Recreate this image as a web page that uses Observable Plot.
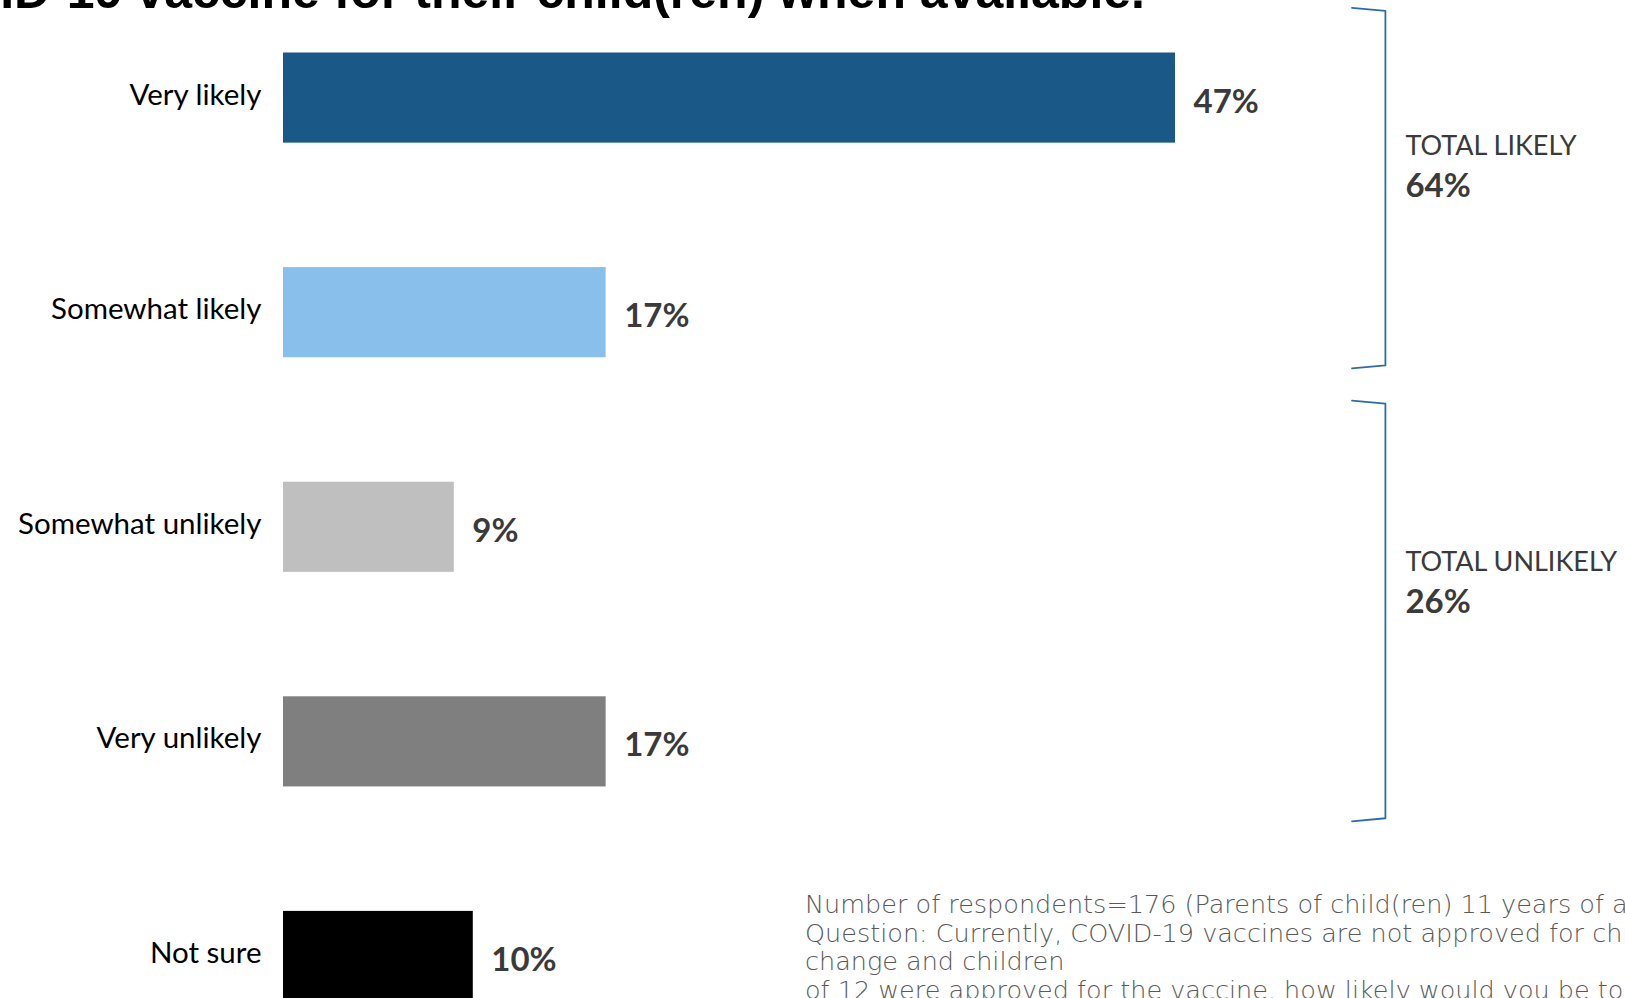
<!DOCTYPE html>
<html>
<head>
<meta charset="utf-8">
<script src="https://cdn.jsdelivr.net/npm/d3@7"></script>
<script src="https://cdn.jsdelivr.net/npm/@observablehq/plot@0.6"></script>
<style>
  html, body { margin: 0; padding: 0; background: #fff; }
  body { width: 1625px; height: 998px; overflow: hidden; position: relative; }
  #chart { position: absolute; left: 0; top: 0; }
  #title { position: absolute; right: 480px; top: -34px; font: bold 50px "Liberation Sans", Arial, sans-serif;
           line-height: 50px; white-space: nowrap; color: #000; }
  #caption { position: absolute; left: 805px; top: 890px; font: 200 25.5px "DejaVu Sans", sans-serif;
             line-height: 28.5px; white-space: nowrap; color: #595959; }
</style>
</head>
<body>
<div id="chart"></div>
<div id="title"></div>
<div id="caption"></div>
<script>
// ---- data ----
const categories = ["Very likely", "Somewhat likely", "Somewhat unlikely", "Very unlikely", "Not sure"];
const values = [47, 17, 9, 17, 10];
const palette = ["#1A5888", "#89BFEB", "#BFBFBF", "#7F7F7F", "#000000"];

const groupLabels = ["TOTAL LIKELY", "TOTAL UNLIKELY"];
const groupValues = [64, 26];
const groupStart = [-0.42, 1.41];   // bracket extents, in category-row units
const groupEnd = [1.26, 3.37];

const titleText = "Likelihood of parents getting the COVID-19 vaccine for their child(ren) when available.";
const captionLines = [
  "Number of respondents=176 (Parents of child(ren) 11 years of age or younger)",
  "Question: Currently, COVID-19 vaccines are not approved for children under the age of 12. If this were to",
  "change and children",
  "of 12 were approved for the vaccine, how likely would you be to get your child(ren) vaccinated?"
];

// ---- tables ----
const rows = categories.map((c, i) => ({category: c, value: values[i], i}));
const groups = groupLabels.map((g, k) => ({label: g, value: groupValues[k], start: groupStart[k], end: groupEnd[k]}));

const xMax = d3.max(values);
const hookX = xMax + 9.3;      // left end of bracket hooks
const spineX = xMax + 11.06;   // vertical spine of bracket
const bracketPts = groups.flatMap((g, k) => [
  {k, x: hookX, y: g.start},
  {k, x: spineX, y: g.start + 0.014},
  {k, x: spineX, y: g.end - 0.014},
  {k, x: hookX, y: g.end}
]);
const labelAt = g => g.start + 0.385 * (g.end - g.start);

const labelFont = "Lato, 'Open Sans', sans-serif";

const chart = Plot.plot({
  width: 1625,
  height: 1074,
  marginLeft: 283,
  marginRight: 450,
  marginTop: 1,
  marginBottom: 0,
  x: {domain: [0, xMax], axis: null},
  y: {type: "linear", domain: [-0.45, 4.55], reverse: true, axis: null},
  color: {domain: categories, range: palette},
  style: {background: "transparent", overflow: "visible"},
  marks: [
    Plot.rectX(rows, {x1: 0, x2: "value", y1: d => d.i - 0.21, y2: d => d.i + 0.21, fill: "category"}),
    Plot.text(rows, {x: 0, y: "i", text: "category", textAnchor: "end", dx: -22, dy: -3,
      fontSize: 29.5, fontFamily: labelFont, fill: "#000"}),
    Plot.text(rows, {x: "value", y: "i", text: d => d.value + "%", textAnchor: "start", dx: 18, dy: 4,
      fontSize: 33, fontWeight: "bold", fontFamily: labelFont, fill: "#3a3a3a"}),
    Plot.line(bracketPts, {x: "x", y: "y", z: "k", stroke: "#2E6CA6", strokeWidth: 1.8}),
    Plot.text(groups, {x: spineX, y: labelAt, text: "label", textAnchor: "start",
      dx: 20, fontSize: 27, fontFamily: labelFont, fill: "#3a3a3a"}),
    Plot.text(groups, {x: spineX, y: d => labelAt(d) + 0.186, text: d => d.value + "%", textAnchor: "start",
      dx: 20, fontSize: 33, fontWeight: "bold", fontFamily: labelFont, fill: "#3a3a3a"})
  ]
});
document.getElementById("chart").appendChild(chart);

document.getElementById("title").textContent = titleText;
const cap = document.getElementById("caption");
captionLines.forEach(l => { const d = document.createElement("div"); d.textContent = l; cap.appendChild(d); });
</script>
</body>
</html>
